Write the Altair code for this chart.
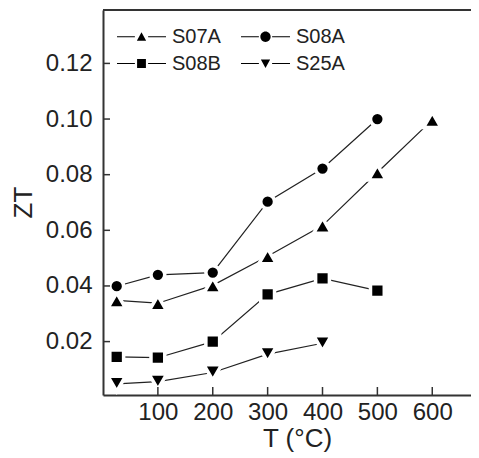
import altair as alt
import pandas as pd

# ---- data ----
T_vals = [25, 100, 200, 300, 400, 500, 600]
s07a = [0.0348, 0.0338, 0.0402, 0.0507, 0.0617, 0.0808, 0.0997]
s08a = [0.0399, 0.0440, 0.0448, 0.0703, 0.0822, 0.1000]
s08b = [0.0145, 0.0142, 0.0200, 0.0370, 0.0427, 0.0383]
s25a = [0.0048, 0.0056, 0.0089, 0.0155, 0.0194]
series_names = ["S07A", "S08A", "S08B", "S25A"]
x_ticks = [100, 200, 300, 400, 500, 600]
y_ticks = [0.02, 0.04, 0.06, 0.08, 0.10, 0.12]

rows = []
for name, vals in zip(series_names, [s07a, s08a, s08b, s25a]):
    for t, v in zip(T_vals, vals):
        rows.append({"series": name, "T": t, "ZT": v})
df = pd.DataFrame(rows)

W, H = 368, 385
FONT = "Liberation Sans"
INK = "#222222"
FRAME = "#333333"

xscale = alt.Scale(domain=[0, 670.6], nice=False, zero=False)
yscale = alt.Scale(domain=[0.0008, 0.1392], nice=False, zero=False)

x_axis = alt.Axis(values=x_ticks, ticks=False, tickSize=0, grid=False,
                  labelPadding=5, labelFontSize=24, labelFont=FONT, labelColor=INK,
                  title="T (°C)", titleFontSize=26, titleFont=FONT, titleColor=INK,
                  titleFontWeight="normal", titleX=194, titleY=51,
                  titleBaseline="alphabetic",
                  domainColor=FRAME, domainWidth=2, labelFlush=False)
y_axis = alt.Axis(values=y_ticks, format=".2f", ticks=False, tickSize=0, grid=False,
                  labelPadding=11, labelFontSize=24, labelFont=FONT, labelColor=INK,
                  title="ZT", titleFontSize=26, titleFont=FONT, titleColor=INK,
                  titleFontWeight="normal", titleX=-80, titleY=192,
                  titleBaseline="middle",
                  domainColor=FRAME, domainWidth=2, labelFlush=False)

X = alt.X("T:Q", scale=xscale, axis=x_axis)
Y = alt.Y("ZT:Q", scale=yscale, axis=y_axis)

lines = alt.Chart(df).mark_line(color=INK, strokeWidth=1.2).encode(
    x=X, y=Y, detail="series:N",
)

marker_shapes = ["triangle-up", "circle", "square", "triangle-down"]
marker_sizes = [310, 190, 190, 310]
marker_layers = []
for name, shp, sz in zip(series_names, marker_shapes, marker_sizes):
    marker_layers.append(
        alt.Chart(df).transform_filter(alt.datum.series == name).mark_point(
            filled=True, fill="black", stroke="white", strokeWidth=3.5,
            opacity=1, shape=shp, size=sz).encode(x=X, y=Y)
    )

# legend symbols: thin filled bars either side of the marker
BARS = "M-2,-0.045H-0.54V0.045H-2ZM0.54,-0.045H2V0.045H0.54Z"
legend_paths = [
    BARS + "M0,-0.36L0.38,0.32L-0.38,0.32Z",
    BARS + "M0.42,0A0.42,0.42 0 1,1 -0.42,0A0.42,0.42 0 1,1 0.42,0Z",
    BARS + "M-0.36,-0.36H0.36V0.36H-0.36Z",
    BARS + "M0,0.36L0.38,-0.32L-0.38,-0.32Z",
]

legend_layer = alt.Chart(df).mark_point(filled=True, color="black", opacity=0, size=600).encode(
    x=X, y=Y,
    shape=alt.Shape("series:N", scale=alt.Scale(domain=series_names, range=legend_paths),
                    legend=alt.Legend(title=None, orient="none", legendX=26, legendY=14,
                                      direction="horizontal",
                                      columns=2, columnPadding=20, rowPadding=4,
                                      symbolSize=600, symbolStrokeWidth=0,
                                      symbolFillColor="black",
                                      symbolOpacity=1, labelOffset=18, padding=0,
                                      labelFontSize=20, labelFont=FONT, labelColor=INK)),
)

# inward-pointing tick marks
xt = alt.Chart(pd.DataFrame({"T": x_ticks})).mark_tick(
    color=FRAME, orient="vertical", size=8, thickness=1.5, opacity=1).encode(
    x=X, y=alt.value(H - 4))
yt = alt.Chart(pd.DataFrame({"ZT": y_ticks})).mark_tick(
    color=FRAME, orient="horizontal", size=7, thickness=1.5, opacity=1).encode(
    y=Y, x=alt.value(3.5))
top = alt.Chart(pd.DataFrame({"a": [0]})).mark_rule(color=FRAME, strokeWidth=2).encode(
    x=alt.value(0), x2=alt.value(W), y=alt.value(0))

chart = alt.layer(lines, *marker_layers, legend_layer, xt, yt, top).properties(
    width=W, height=H, autosize="none",
    padding={"left": 95, "top": 2, "right": 0, "bottom": 57},
    background="white",
).configure_view(stroke=None)

chart.save("out.html", embed_options={"renderer": "svg", "actions": False})
